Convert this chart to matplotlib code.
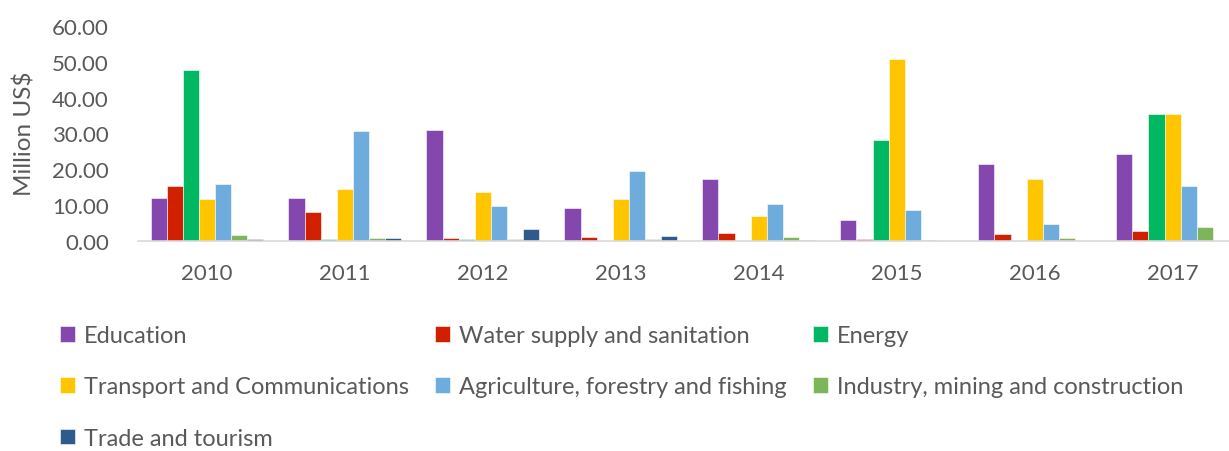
import matplotlib.pyplot as plt
from matplotlib.patches import Patch
import numpy as np

plt.rcParams['font.family'] = ['Lato', 'DejaVu Sans']

years = ['2010', '2011', '2012', '2013', '2014', '2015', '2016', '2017']
sectors = ['Education', 'Water supply and sanitation', 'Energy',
           'Transport and Communications', 'Agriculture, forestry and fishing',
           'Industry, mining and construction', 'Trade and tourism']
colors = ['#8447AE', '#D02000', '#00B862', '#FFC600', '#6EACDE', '#7DB55A', '#2F5A8E']

# million US$ per sector, one list per sector over the years
education = [12.0, 12.0, 30.9, 9.2, 17.4, 6.0, 21.6, 24.3]
water = [15.5, 8.1, 0.9, 1.3, 2.2, 0.5, 1.9, 2.9]
energy = [47.8, 0.7, 0.6, 0.0, 0.0, 28.1, 0.0, 35.4]
transport = [11.8, 14.6, 13.6, 11.8, 7.0, 50.6, 17.3, 35.4]
agriculture = [15.8, 30.7, 9.7, 19.5, 10.3, 8.6, 4.8, 15.3]
industry = [1.7, 0.9, 0.7, 0.7, 1.1, 0.3, 0.9, 3.9]
trade = [0.5, 0.9, 3.3, 1.5, 0.4, 0.0, 0.0, 0.0]

series = [education, water, energy, transport, agriculture, industry, trade]

fig = plt.figure(figsize=(12.29, 4.52), dpi=100)
ax = fig.add_axes([0.1123, 0.464, 0.898, 0.477])

x = np.arange(len(years))
w = 0.117
for i, vals in enumerate(series):
    ax.bar(x + (i - 3) * w, vals, width=w, color=colors[i],
           edgecolor='white', linewidth=0.4, label=sectors[i])

ax.set_xlim(-0.5, len(years) - 0.5)
ax.set_ylim(0, 60)
ax.set_yticks(np.arange(0, 61, 10))
ax.set_yticklabels(['%.2f' % v for v in np.arange(0, 61, 10)])
ax.set_xticks(x)
ax.set_xticklabels(years)

for s in ['top', 'right', 'left']:
    ax.spines[s].set_visible(False)
ax.spines['bottom'].set_color('#D9D9D9')
ax.spines['bottom'].set_linewidth(1.2)
ax.tick_params(axis='both', length=0, labelsize=16, labelcolor='#595959')
ax.tick_params(axis='y', pad=21)
ax.tick_params(axis='x', pad=16)

fig.text(25 / 1229, 1 - 134 / 452, 'Million US$', rotation=90, ha='center',
         va='center', fontsize=17.5, color='#595959')

# legend is filled column by column, so reorder to read row by row
order = [0, 3, 6, 1, 4, 2, 5]
handles = [Patch(facecolor=colors[k], edgecolor='white', linewidth=0.4) for k in order]
labels = [sectors[k] for k in order]
fig.legend(handles, labels, ncol=3, loc='upper left',
           bbox_to_anchor=(39 / 1229, 1 - 305 / 452), frameon=False,
           fontsize=17, labelcolor='#595959', handlelength=0.64, handleheight=0.64,
           handletextpad=0.38, columnspacing=1.1, labelspacing=1.28)

fig.savefig('out.png', dpi=100)
